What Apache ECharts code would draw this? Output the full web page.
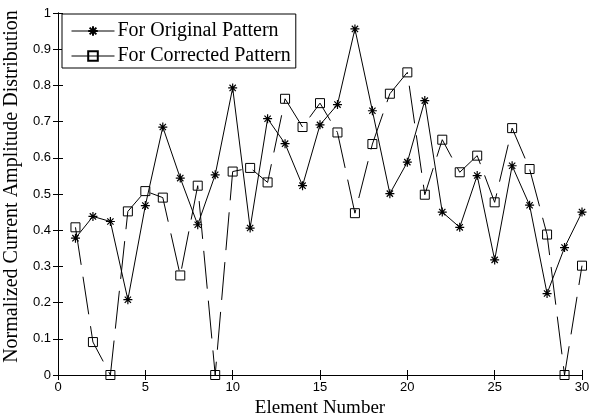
<!DOCTYPE html>
<html>
<head>
<meta charset="utf-8">
<script src="https://cdn.jsdelivr.net/npm/echarts@6/dist/echarts.min.js"></script>
<style>
html, body { margin: 0; padding: 0; background: #fff; }
#chart { width: 590px; height: 419px; }
</style>
</head>
<body>
<div id="chart"></div>
<script>
// element index 1..30
const elements = Array.from({ length: 30 }, (_, i) => i + 1)
const originalPattern = [
    0.378, 0.438, 0.424, 0.208, 0.468, 0.685, 0.544, 0.415, 0.553, 0.793,
    0.406, 0.708, 0.639, 0.523, 0.691, 0.747, 0.956, 0.730, 0.501, 0.588,
    0.758, 0.450, 0.408, 0.551, 0.318, 0.578, 0.469, 0.225, 0.352, 0.450
]
const correctedPattern = [
    0.408, 0.091, 0.000, 0.452, 0.508, 0.490, 0.275, 0.523, 0.000, 0.562,
    0.572, 0.532, 0.763, 0.685, 0.751, 0.670, 0.447, 0.638, 0.777, 0.836,
    0.498, 0.650, 0.560, 0.606, 0.477, 0.682, 0.569, 0.388, 0.000, 0.302
]
const seriesNames = ['For Original Pattern', 'For Corrected Pattern']

const starPath = 'path://M5 0L5 10M0 5L10 5M1.5 1.5L8.5 8.5M8.5 1.5L1.5 8.5'
const serif = 'Liberation Serif'
const sans = 'Liberation Sans'

let chart = echarts.init(document.getElementById('chart'))

const tickStyle = { inside: true, length: 5, lineStyle: { color: '#000', width: 1 } }
const lineAxis = { show: true, lineStyle: { color: '#000', width: 1 } }

let option = {
    animation: false,
    backgroundColor: '#fff',
    grid: { left: 58, right: 8, top: 13, bottom: 44, outerBoundsMode: 'none', containLabel: false },
    legend: {
        orient: 'vertical',
        left: 62,
        top: 14,
        data: seriesNames,
        backgroundColor: '#fff',
        borderColor: '#000',
        borderWidth: 1,
        borderRadius: 0,
        padding: [7, 5, 2, 9],
        itemWidth: 43,
        itemHeight: 12,
        itemGap: 5,
        lineStyle: { type: 'solid', width: 1, color: '#000' },
        textStyle: { fontFamily: serif, fontSize: 20, color: '#000', padding: [0, 0, 0, -2] }
    },
    xAxis: [{
        type: 'value',
        min: 0,
        max: 30,
        interval: 5,
        position: 'bottom',
        name: 'Element Number',
        nameLocation: 'middle',
        nameGap: 24,
        nameTextStyle: { fontFamily: serif, fontSize: 19, color: '#000' },
        axisLine: lineAxis,
        axisTick: tickStyle,
        axisLabel: { fontFamily: sans, fontSize: 13, color: '#000', margin: 6 },
        splitLine: { show: false }
    }, {
        type: 'value',
        min: 0,
        max: 30,
        interval: 5,
        position: 'top',
        axisLine: lineAxis,
        axisTick: tickStyle,
        axisLabel: { show: false },
        splitLine: { show: false }
    }],
    yAxis: [{
        type: 'value',
        min: 0,
        max: 1,
        interval: 0.1,
        position: 'left',
        name: 'Normalized Current Amplitude Distribution',
        nameLocation: 'middle',
        nameGap: 32,
        nameTextStyle: { fontFamily: serif, fontSize: 20, color: '#000', padding: [0, 0, 0, 15] },
        axisLine: lineAxis,
        axisTick: tickStyle,
        axisLabel: {
            fontFamily: sans, fontSize: 13, color: '#000', margin: 7,
            formatter: v => String(Math.round(v * 10) / 10)
        },
        splitLine: { show: false }
    }, {
        type: 'value',
        min: 0,
        max: 1,
        interval: 0.1,
        position: 'right',
        axisLine: lineAxis,
        axisTick: tickStyle,
        axisLabel: { show: false },
        splitLine: { show: false }
    }],
    series: [{
        name: seriesNames[0],
        type: 'line',
        data: elements.map((e, i) => [e, originalPattern[i]]),
        symbol: starPath,
        symbolSize: 9,
        showAllSymbol: true,
        lineStyle: { color: '#000', width: 1 },
        itemStyle: { color: 'none', borderColor: '#000', borderWidth: 1.2 },
        emphasis: { disabled: true },
        z: 3
    }, {
        name: seriesNames[1],
        type: 'line',
        data: elements.map((e, i) => [e, correctedPattern[i]]),
        symbol: 'rect',
        symbolSize: 9,
        showAllSymbol: true,
        lineStyle: { color: '#000', width: 1, type: [38, 12] },
        itemStyle: { color: 'rgba(255,255,255,0)', borderColor: '#000', borderWidth: 1 },
        emphasis: { disabled: true },
        z: 2
    }]
}
chart.setOption(option)
</script>
</body>
</html>
